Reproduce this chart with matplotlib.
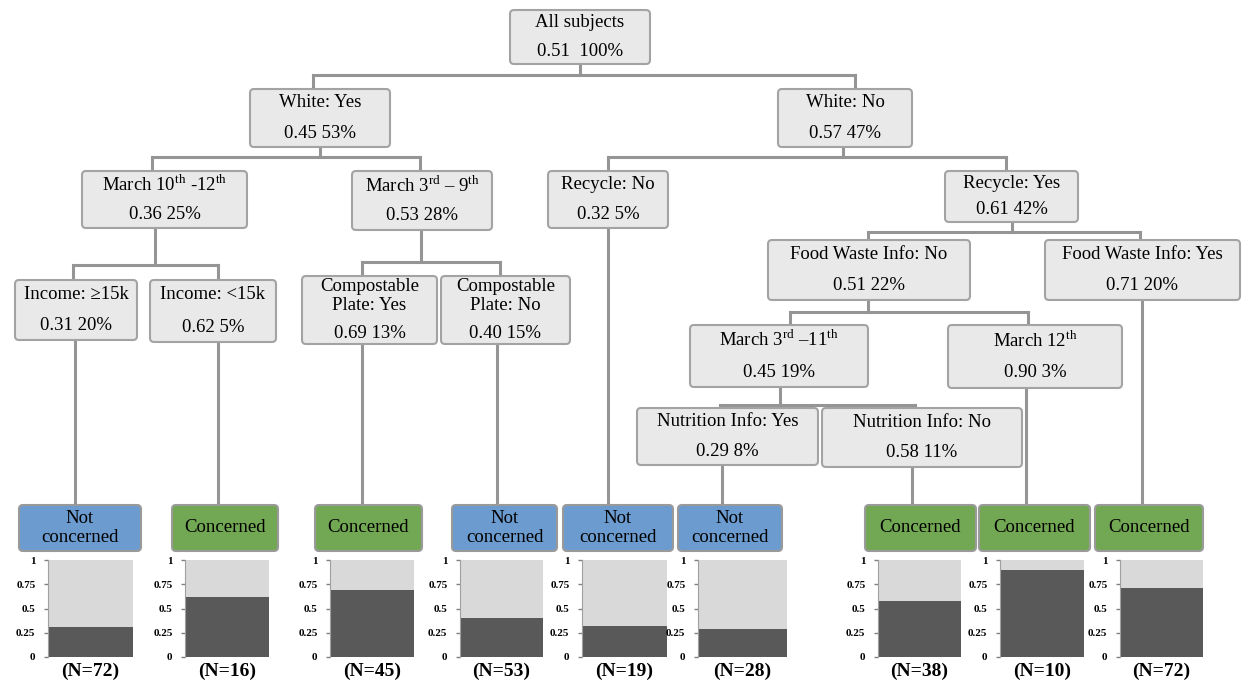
import matplotlib
matplotlib.use("Agg")
from matplotlib import pyplot as plt
from matplotlib.patches import FancyBboxPatch

plt.rcParams['font.family'] = ['Liberation Serif', 'DejaVu Serif']
plt.rcParams['mathtext.fontset'] = 'custom'
plt.rcParams['mathtext.rm'] = 'Liberation Serif'

# tree nodes: split label, share concerned, share of subjects (%)
node_labels = ["All subjects", "White: Yes", "White: No",
               "March 10$^{\\mathrm{th}}$ -12$^{\\mathrm{th}}$",
               "March 3$^{\\mathrm{rd}}$ \u2013 9$^{\\mathrm{th}}$",
               "Recycle: No", "Recycle: Yes",
               "Income: \u226515k", "Income: <15k",
               "Compostable\nPlate: Yes", "Compostable\nPlate: No",
               "Food Waste Info: No", "Food Waste Info: Yes",
               "March 3$^{\\mathrm{rd}}$ \u201311$^{\\mathrm{th}}$",
               "March 12$^{\\mathrm{th}}$",
               "Nutrition Info: Yes", "Nutrition Info: No"]
node_rates = [0.51, 0.45, 0.57, 0.36, 0.53, 0.32, 0.61, 0.31, 0.62,
              0.69, 0.40, 0.51, 0.71, 0.45, 0.90, 0.29, 0.58]
node_shares = [100, 53, 47, 25, 28, 5, 42, 20, 5, 13, 15, 22, 20, 19, 3, 8, 11]

# terminal leaves
leaf_classes = ["Not\nconcerned", "Concerned", "Concerned", "Not\nconcerned",
                "Not\nconcerned", "Not\nconcerned", "Concerned", "Concerned",
                "Concerned"]
leaf_rates = [0.31, 0.62, 0.69, 0.40, 0.32, 0.29, 0.58, 0.90, 0.71]
leaf_n = [72, 16, 45, 53, 19, 28, 38, 10, 72]

# layout in pixels (x0, x1, y0, y1)
node_boxes = [(510, 650, 10, 64), (250, 390, 89, 147), (778, 912, 89, 147),
              (82, 247, 171, 228), (352, 492, 171, 230), (548, 668, 171, 228),
              (945, 1078, 171, 222), (15, 137, 280, 340), (150, 276, 280, 342),
              (302, 437, 276, 344), (441, 570, 276, 344), (768, 970, 240, 300),
              (1045, 1240, 240, 300), (690, 868, 325, 387), (948, 1122, 325, 388),
              (637, 818, 408, 465), (822, 1022, 408, 467)]
# parent index, parent x, bar y, child xs
splits = [(0, 580, 75, (313, 855)), (1, 320, 157, (152, 420)),
          (2, 843, 157, (608, 1006)), (3, 155, 265, (73, 218)),
          (4, 421, 262, (362, 500)), (6, 1012, 232, (868, 1140)),
          (11, 868, 312, (790, 1028)), (13, 780, 405, (720, 915))]
child_tops = {313: 89, 855: 89, 152: 171, 420: 171, 608: 171, 1006: 171,
              73: 280, 218: 280, 362: 276, 500: 276, 868: 240, 1140: 240,
              790: 325, 1028: 325, 720: 408, 915: 408}
leaf_parents = [7, 8, 9, 10, 5, 15, 16, 14, 12]
leaf_line_x = [75, 218, 362, 497, 608, 722, 912, 1026, 1142]
leaf_boxes = [(19, 141), (172, 278), (315, 422), (452, 557), (563, 673),
              (678, 782), (865, 976), (979, 1090), (1095, 1203)]
bar_boxes = [(48, 133), (185, 269), (330, 414), (460, 543), (582, 667),
             (698, 787), (878, 961), (1000, 1084), (1120, 1203)]

W, H = 1243, 683
fig = plt.figure(figsize=(12.43, 6.83), dpi=100)
ax = fig.add_axes([0, 0, 1, 1])
ax.set_xlim(0, W)
ax.set_ylim(H, 0)
ax.axis('off')

line_c = '#959595'
lw = 2.2
for p, px, yb, kids in splits:
    ax.plot([px, px], [node_boxes[p][3], yb], color=line_c, lw=lw, zorder=1)
    ax.plot([kids[0], kids[1]], [yb, yb], color=line_c, lw=lw, zorder=1)
    for k in kids:
        ax.plot([k, k], [yb, child_tops[k]], color=line_c, lw=lw, zorder=1)

for i, x in enumerate(leaf_line_x):
    ax.plot([x, x], [node_boxes[leaf_parents[i]][3], 505], color=line_c, lw=lw, zorder=1)

fs = 13.5
for i, (x0, x1, y0, y1) in enumerate(node_boxes):
    ax.add_patch(FancyBboxPatch((x0, y0), x1 - x0, y1 - y0,
                                boxstyle="round,pad=0,rounding_size=4",
                                fc='#e9e9e9', ec='#a3a3a3', lw=1.5, zorder=2))
    cx = (x0 + x1) / 2
    sep = "  " if i == 0 else " "
    val = f"{node_rates[i]:.2f}{sep}{node_shares[i]}%"
    if "\n" in node_labels[i]:
        ax.text(cx, y0 + 20, node_labels[i], ha='center', va='center',
                fontsize=fs, linespacing=1.2, zorder=3)
        ax.text(cx, y1 - 10, val, ha='center', va='center', fontsize=fs, zorder=3)
    else:
        ax.text(cx, y0 + (y1 - y0) * 0.24, node_labels[i], ha='center',
                va='center', fontsize=fs, zorder=3)
        ax.text(cx, y0 + (y1 - y0) * 0.76, val, ha='center', va='center',
                fontsize=fs, zorder=3)

for i, (x0, x1) in enumerate(leaf_boxes):
    fc = '#6c9bcf' if leaf_classes[i].startswith("Not") else '#72a853'
    ax.add_patch(FancyBboxPatch((x0, 505), x1 - x0, 46,
                                boxstyle="round,pad=0,rounding_size=4",
                                fc=fc, ec='#9a9a9a', lw=1.5, zorder=2))
    ax.text((x0 + x1) / 2, 528, leaf_classes[i], ha='center', va='center',
            fontsize=fs, linespacing=1.1, zorder=3)

for i, (x0, x1) in enumerate(bar_boxes):
    bx = fig.add_axes([x0 / W, 1 - 657 / H, (x1 - x0) / W, 97 / H])
    bx.bar([0], [1], width=1, color='#d9d9d9')
    bx.bar([0], [leaf_rates[i]], width=1, color='#595959')
    bx.set_xlim(-0.5, 0.5)
    bx.set_ylim(0, 1)
    bx.set_xticks([])
    bx.set_yticks([0, 0.25, 0.5, 0.75, 1])
    bx.set_yticklabels(['0', '0.25', '0.5', '0.75', '1'], fontsize=8,
                       fontweight='bold')
    bx.tick_params(axis='y', length=3, width=1, color='#808080', pad=6)
    for s in ['top', 'right', 'bottom']:
        bx.spines[s].set_visible(False)
    bx.spines['left'].set_color('#a0a0a0')
    bx.patch.set_alpha(0)
    ax.text((x0 + x1) / 2, 671, f"(N={leaf_n[i]})", ha='center', va='center',
            fontsize=14, fontweight='bold')

plt.savefig("out.png", dpi=100)
